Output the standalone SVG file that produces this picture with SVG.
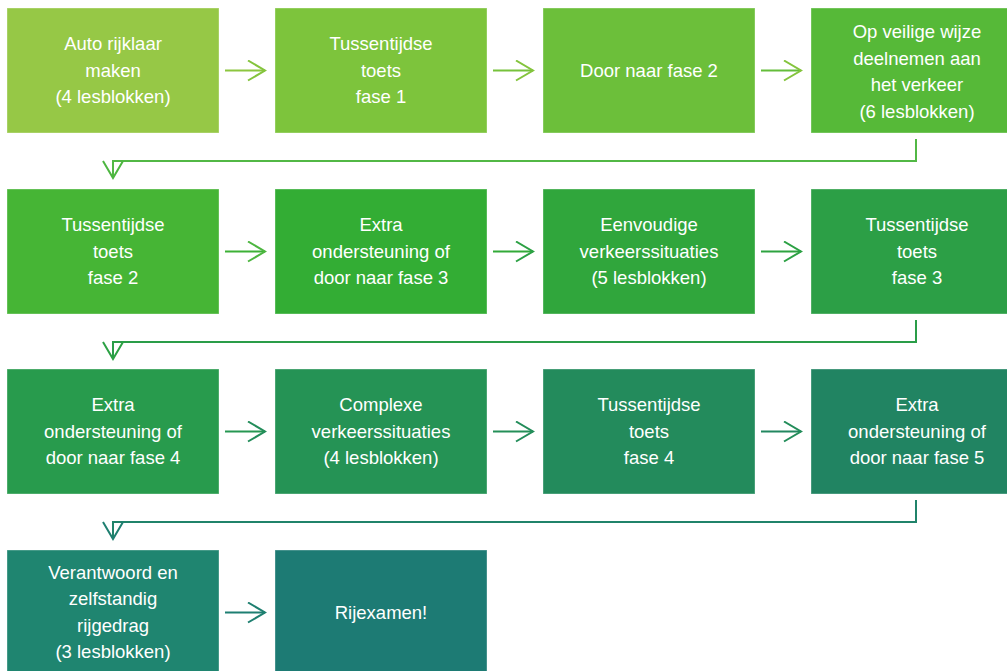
<svg xmlns="http://www.w3.org/2000/svg" width="1007" height="671" viewBox="0 0 1007 671">
<style>
.box{stroke:#ffffff;stroke-opacity:0.35;stroke-width:1}
.t{font-family:"Liberation Sans",Arial,sans-serif;font-size:18.5px;fill:#ffffff;text-anchor:middle}
.c{fill:none;stroke-width:2}
</style>
<defs>
<marker id="m1" markerUnits="userSpaceOnUse" markerWidth="20" markerHeight="22" refX="17" refY="10" orient="auto" viewBox="-1 -1 20 22"><path d="M0,0 L17,10 L0,20" fill="none" stroke="#84C43D" stroke-width="2"/></marker>
<marker id="m2" markerUnits="userSpaceOnUse" markerWidth="20" markerHeight="22" refX="17" refY="10" orient="auto" viewBox="-1 -1 20 22"><path d="M0,0 L17,10 L0,20" fill="none" stroke="#4DB640" stroke-width="2"/></marker>
<marker id="m3" markerUnits="userSpaceOnUse" markerWidth="20" markerHeight="22" refX="17" refY="10" orient="auto" viewBox="-1 -1 20 22"><path d="M0,0 L17,10 L0,20" fill="none" stroke="#2CA144" stroke-width="2"/></marker>
<marker id="m4" markerUnits="userSpaceOnUse" markerWidth="20" markerHeight="22" refX="17" refY="10" orient="auto" viewBox="-1 -1 20 22"><path d="M0,0 L17,10 L0,20" fill="none" stroke="#238D5A" stroke-width="2"/></marker>
<marker id="m5" markerUnits="userSpaceOnUse" markerWidth="20" markerHeight="22" refX="17" refY="10" orient="auto" viewBox="-1 -1 20 22"><path d="M0,0 L17,10 L0,20" fill="none" stroke="#1E7F70" stroke-width="2"/></marker>
</defs>
<g id="connectors">
<path class="c" stroke="#8CC63F" marker-end="url(#m1)" d="M225,70.5 H265" style="stroke:#8CC63F"/>
<path class="c" d="M493,70.5 H533" style="stroke:#76C23B" marker-end="url(#m1)"/>
<path class="c" d="M761,70.5 H801" style="stroke:#64BD3A" marker-end="url(#m1)"/>
<path class="c" d="M916,139 V161 H113 V178" style="stroke:#52B845" marker-end="url(#m2)"/>
<path class="c" d="M225,251.5 H265" style="stroke:#3DB136" marker-end="url(#m2)"/>
<path class="c" d="M493,251.5 H533" style="stroke:#32AA38" marker-end="url(#m3)"/>
<path class="c" d="M761,251.5 H801" style="stroke:#2EA340" marker-end="url(#m3)"/>
<path class="c" d="M916,320 V342 H113 V359" style="stroke:#2A9D48" marker-end="url(#m3)"/>
<path class="c" d="M225,431.5 H265" style="stroke:#269752" marker-end="url(#m4)"/>
<path class="c" d="M493,431.5 H533" style="stroke:#248F58" marker-end="url(#m4)"/>
<path class="c" d="M761,431.5 H801" style="stroke:#228760" marker-end="url(#m4)"/>
<path class="c" d="M916,500 V522 H113 V539" style="stroke:#20836A" marker-end="url(#m5)"/>
<path class="c" d="M225,612.5 H265" style="stroke:#1E7F72" marker-end="url(#m5)"/>
</g>
<g id="n1"><rect class="box" x="7" y="8" width="212" height="125" fill="#96C846"/><text class="t" x="113" y="50">Auto rijklaar</text><text class="t" x="113" y="76.5">maken</text><text class="t" x="113" y="103">(4 lesblokken)</text></g>
<g id="n2"><rect class="box" x="275" y="8" width="212" height="125" fill="#7DC43C"/><text class="t" x="381" y="50">Tussentijdse</text><text class="t" x="381" y="76.5">toets</text><text class="t" x="381" y="103">fase 1</text></g>
<g id="n3"><rect class="box" x="543" y="8" width="212" height="125" fill="#6CBF3A"/><text class="t" x="649" y="77">Door naar fase 2</text></g>
<g id="n4"><rect class="box" x="811" y="8" width="212" height="125" fill="#56B938"/><text class="t" x="917" y="38">Op veilige wijze</text><text class="t" x="917" y="64.5">deelnemen aan</text><text class="t" x="917" y="91">het verkeer</text><text class="t" x="917" y="117.5">(6 lesblokken)</text></g>
<g id="n5"><rect class="box" x="7" y="189" width="212" height="125" fill="#46B535"/><text class="t" x="113" y="231">Tussentijdse</text><text class="t" x="113" y="257.5">toets</text><text class="t" x="113" y="284">fase 2</text></g>
<g id="n6"><rect class="box" x="275" y="189" width="212" height="125" fill="#33AD34"/><text class="t" x="381" y="231">Extra</text><text class="t" x="381" y="257.5">ondersteuning of</text><text class="t" x="381" y="284">door naar fase 3</text></g>
<g id="n7"><rect class="box" x="543" y="189" width="212" height="125" fill="#30A63C"/><text class="t" x="649" y="231">Eenvoudige</text><text class="t" x="649" y="257.5">verkeerssituaties</text><text class="t" x="649" y="284">(5 lesblokken)</text></g>
<g id="n8"><rect class="box" x="811" y="189" width="212" height="125" fill="#2C9F46"/><text class="t" x="917" y="231">Tussentijdse</text><text class="t" x="917" y="257.5">toets</text><text class="t" x="917" y="284">fase 3</text></g>
<g id="n9"><rect class="box" x="7" y="369" width="212" height="125" fill="#289B4D"/><text class="t" x="113" y="411">Extra</text><text class="t" x="113" y="437.5">ondersteuning of</text><text class="t" x="113" y="464">door naar fase 4</text></g>
<g id="n10"><rect class="box" x="275" y="369" width="212" height="125" fill="#259355"/><text class="t" x="381" y="411">Complexe</text><text class="t" x="381" y="437.5">verkeerssituaties</text><text class="t" x="381" y="464">(4 lesblokken)</text></g>
<g id="n11"><rect class="box" x="543" y="369" width="212" height="125" fill="#238B5C"/><text class="t" x="649" y="411">Tussentijdse</text><text class="t" x="649" y="437.5">toets</text><text class="t" x="649" y="464">fase 4</text></g>
<g id="n12"><rect class="box" x="811" y="369" width="212" height="125" fill="#218462"/><text class="t" x="917" y="411">Extra</text><text class="t" x="917" y="437.5">ondersteuning of</text><text class="t" x="917" y="464">door naar fase 5</text></g>
<g id="n13"><rect class="box" x="7" y="550" width="212" height="125" fill="#1F8570"/><text class="t" x="113" y="578.5">Verantwoord en</text><text class="t" x="113" y="605">zelfstandig</text><text class="t" x="113" y="631.5">rijgedrag</text><text class="t" x="113" y="658">(3 lesblokken)</text></g>
<g id="n14"><rect class="box" x="275" y="550" width="212" height="125" fill="#1D7B74"/><text class="t" x="381" y="619">Rijexamen!</text></g>
</svg>
